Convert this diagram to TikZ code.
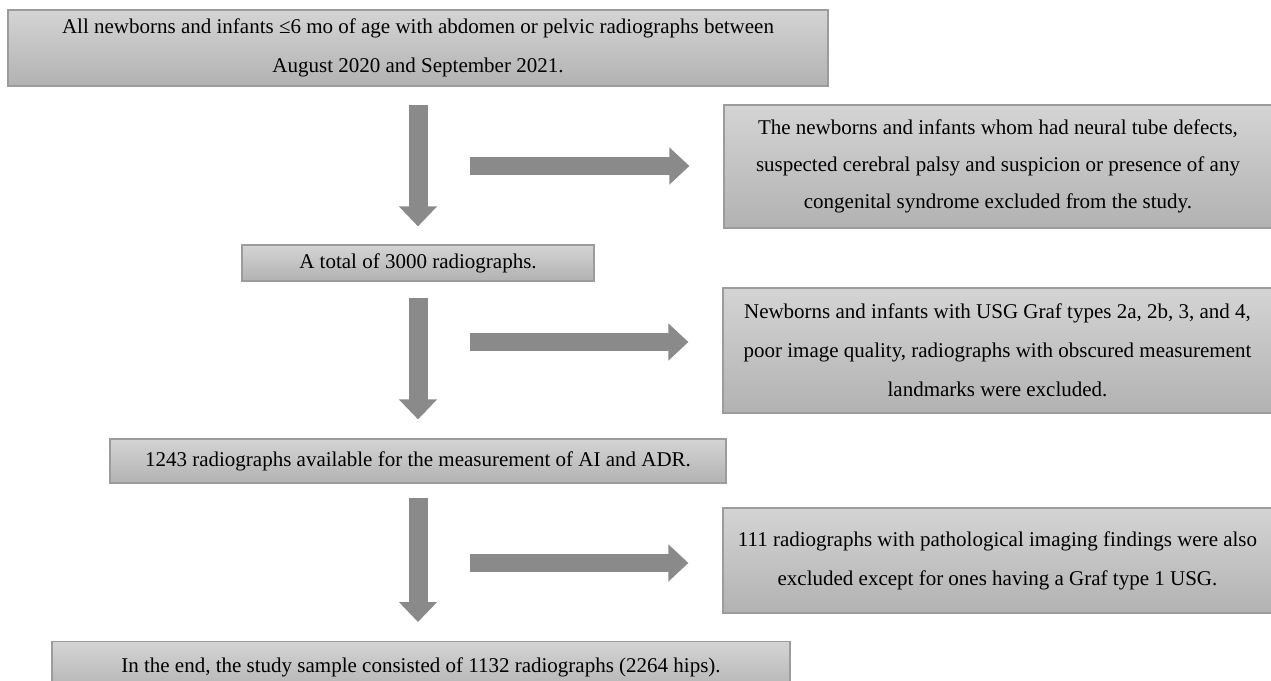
\documentclass[tikz,border=0pt]{standalone}
\usepackage{fontspec}
\setmainfont{Liberation Serif}
\usetikzlibrary{arrows.meta,calc,positioning}
\definecolor{BoxTop}{HTML}{D4D4D4}
\definecolor{BoxBottom}{HTML}{B2B2B2}
\definecolor{Edge}{HTML}{9C9C9C}
\definecolor{ArrowGray}{HTML}{8A8A8A}
\tikzset{box/.style={draw=Edge,top color=BoxTop,bottom color=BoxBottom,line width=.6pt,align=center,inner sep=0pt,font=\fontsize{10.5}{19.5}\selectfont},downflow/.style={draw=ArrowGray,line width=9.5pt,-{Triangle[width=18.5pt,length=10pt]}},sideflow/.style={draw=ArrowGray,line width=9pt,-{Triangle[width=18pt,length=10pt]}}}

\begin{document}
\begin{tikzpicture}[x=0.5pt,y=-0.5pt]
      \useasboundingbox(0,0)rectangle(1271,681);
      \clip(0,0)rectangle(1271,681);
      \node[box,minimum width=410pt,minimum height=38pt](all)at(418,48){All newborns and infants ≤6 mo of age with abdomen or pelvic radiographs between\\August 2020 and September 2021.};
      \node[box,minimum width=274pt,minimum height=61.5pt,font=\fontsize{10.5}{18.5}\selectfont](excl1)at(998,166.5){The newborns and infants whom had neural tube defects,\\suspected cerebral palsy and suspicion or presence of any\\congenital syndrome excluded from the study.};
      \node[box,minimum width=176pt,minimum height=18pt](total)at(418,263){A total of 3000 radiographs.};
      \node[box,minimum width=274.5pt,minimum height=62.5pt](excl2)at(997.5,350.5){Newborns and infants with USG Graf types 2a, 2b, 3, and 4,\\poor image quality, radiographs with obscured measurement\\landmarks were excluded.};
      \node[box,minimum width=308pt,minimum height=22pt](avail)at(418,461){1243 radiographs available for the measurement of AI and ADR.};
      \node[box,minimum width=274.5pt,minimum height=52.5pt](excl3)at(997.5,560.5){111 radiographs with pathological imaging findings were also\\excluded except for ones having a Graf type 1 USG.};
      \node[box,minimum width=369pt,minimum height=26pt,anchor=north](final)at(421,641){\raisebox{-3pt}{In the end, the study sample consisted of 1132 radiographs (2264 hips).}};
      \coordinate(s1)at(470,166);
      \coordinate(s2)at(470,342);
      \coordinate(s3)at(470,563);
      \draw[downflow,shorten <=9pt,shorten >=9pt](all.south)--(total.north);
      \draw[downflow,shorten <=8pt,shorten >=9.5pt](total.south)--(avail.north);
      \draw[downflow,shorten <=7pt,shorten >=9.5pt](avail.south)--(avail.south|-final.north);
      \draw[sideflow,shorten >=17pt](s1)--(s1-|excl1.west);
      \draw[sideflow,shorten >=17pt](s2)--(s2-|excl2.west);
      \draw[sideflow,shorten >=17pt](s3)--(s3-|excl3.west);
    \end{tikzpicture}
\end{document}
